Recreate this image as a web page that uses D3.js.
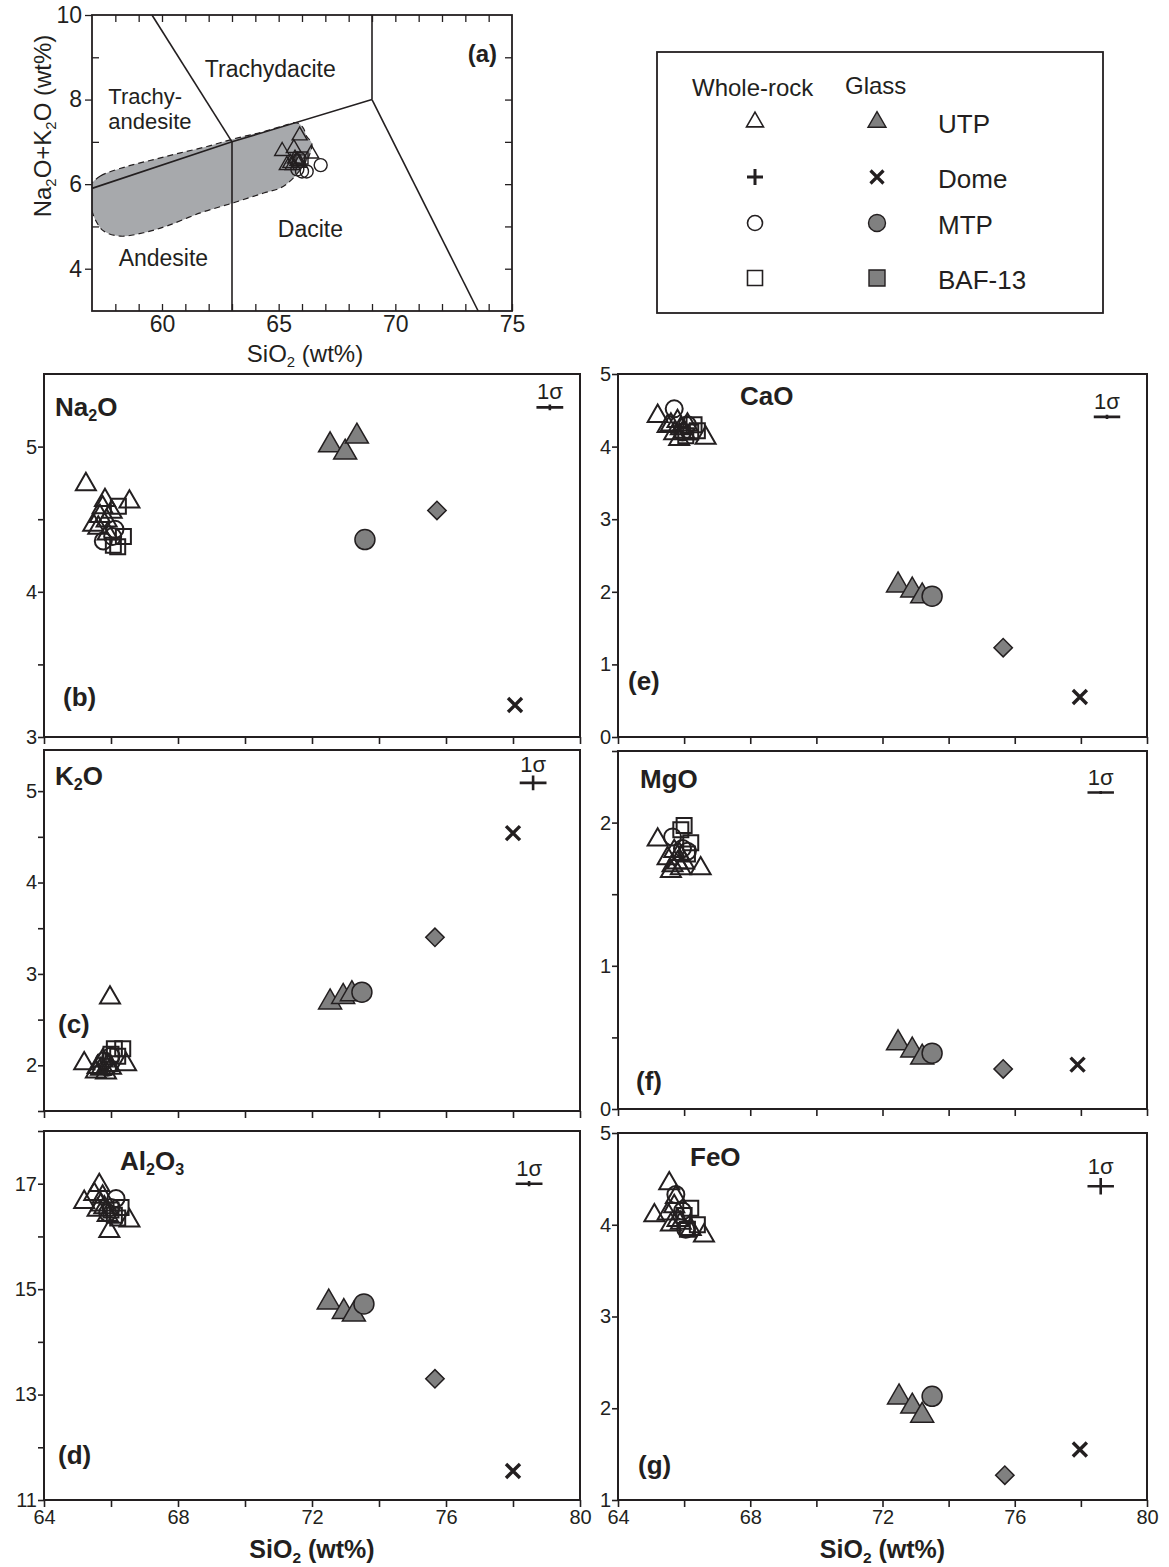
<!DOCTYPE html>
<html><head><meta charset="utf-8">
<script src="https://cdn.jsdelivr.net/npm/d3@7"></script>
<style>
body{margin:0;background:#fff}
text{font-family:"Liberation Sans",Arial,Helvetica,sans-serif;fill:#231f20}
</style>
</head><body><script>
// ================= DATA =================
// (a) TAS diagram
const tasXTicks = [60, 65, 70, 75];
const tasYTicks = [4, 6, 8, 10];
const tasBoundaryLines = [
  [[57, 5.9], [63, 7], [69, 8]],
  [[63, 3], [63, 7]],
  [[63, 7], [59.57, 10]],
  [[69, 8], [69, 10]],
  [[69, 8], [73.55, 3]]
];
const tasFieldOutline = [[56.9,5.95],[57.36,6.19],[58.5,6.42],[59.64,6.58],[60.79,6.74],[61.93,6.89],[63.07,7.07],[64.21,7.22],[65.21,7.38],[65.79,7.45],[66.05,7.33],[66.2,7.13],[66.42,6.97],[66.3,6.66],[66.0,6.4],[65.55,6.1],[65.07,5.91],[64.36,5.79],[63.07,5.56],[61.64,5.32],[60.21,5.01],[59.21,4.85],[58.21,4.77],[57.5,4.89],[57.14,5.16],[56.95,5.48],[56.9,5.79]];
const tasRockNames = ["Trachydacite", ["Trachy-", "andesite"], "Dacite", "Andesite"];
const tasWR_UTP = [[65.15,6.78],[65.9,7.15],[65.65,6.85],[65.35,6.45],[65.5,6.5],[65.7,6.6],[65.8,6.55],[66.4,6.72],[65.6,6.45],[65.9,6.5]];
const tasWR_MTP = [[66.8,6.45],[66.0,6.3],[65.8,6.35],[66.2,6.3],[65.9,6.6]];
const tasWR_BAF = [[66.0,6.62],[65.85,6.55]];

// Harker panels
const sio2Ticks = [64, 66, 68, 70, 72, 74, 76, 78, 80];
const sio2Labels = [64, 68, 72, 76, 80];
const legendGroups = ["UTP", "Dome", "MTP", "BAF-13"];

const na2oWR_UTP = [[65.25,4.74],[65.82,4.63],[66.55,4.62],[65.67,4.52],[65.47,4.46],[65.87,4.49],[66.02,4.55],[65.62,4.44],[65.75,4.58],[65.9,4.4]];
const na2oWR_MTP = [[65.77,4.35],[66.12,4.43],[66.05,4.38]];
const na2oWR_BAF = [[66.37,4.38],[66.07,4.32],[66.2,4.31],[66.22,4.59]];
const na2oGl_UTP = [[72.54,5.01],[72.99,4.96],[73.34,5.07]];
const na2oGl_MTP = [[73.58,4.36]];
const na2oGl_BAF = [[75.73,4.56]];
const na2oGl_Dome = [[78.06,3.22]];

const k2oWR_UTP = [[65.97,2.74],[65.2,2.02],[65.55,1.93],[65.7,1.96],[65.85,1.92],[65.9,2.0],[66.0,1.97],[66.45,2.01],[65.75,2.05],[65.6,1.98]];
const k2oWR_MTP = [[65.8,2.05],[66.0,2.1],[65.9,1.98]];
const k2oWR_BAF = [[66.1,2.18],[66.35,2.18],[66.0,2.12],[66.2,2.1]];
const k2oGl_UTP = [[72.54,2.69],[72.93,2.75],[73.19,2.78]];
const k2oGl_MTP = [[73.49,2.8]];
const k2oGl_BAF = [[75.67,3.4]];
const k2oGl_Dome = [[78.0,4.54]];

const al2o3WR_UTP = [[65.2,16.65],[65.65,16.97],[65.5,16.8],[65.75,16.75],[65.8,16.55],[65.6,16.5],[65.9,16.4],[66.55,16.3],[65.95,16.1],[65.7,16.6]];
const al2o3WR_MTP = [[66.15,16.72],[66.0,16.55],[65.9,16.45]];
const al2o3WR_BAF = [[66.3,16.55],[66.1,16.4],[66.2,16.35],[66.0,16.5]];
const al2o3Gl_UTP = [[72.5,14.75],[72.95,14.57],[73.25,14.52]];
const al2o3Gl_MTP = [[73.55,14.72]];
const al2o3Gl_BAF = [[75.67,13.3]];
const al2o3Gl_Dome = [[78.0,11.55]];

const caoWR_UTP = [[65.2,4.42],[65.6,4.3],[65.8,4.35],[65.9,4.25],[65.7,4.18],[66.0,4.2],[66.65,4.12],[65.85,4.1],[65.5,4.28],[66.1,4.3]];
const caoWR_MTP = [[65.7,4.52],[66.1,4.3],[65.95,4.2]];
const caoWR_BAF = [[66.3,4.3],[66.2,4.2],[66.05,4.15],[66.4,4.22]];
const caoGl_UTP = [[72.47,2.09],[72.9,2.02],[73.2,1.94]];
const caoGl_MTP = [[73.5,1.94]];
const caoGl_BAF = [[75.65,1.23]];
const caoGl_Dome = [[77.97,0.55]];

const mgoWR_UTP = [[65.2,1.88],[65.5,1.75],[65.65,1.7],[65.8,1.72],[65.9,1.68],[65.7,1.8],[66.5,1.68],[66.0,1.72],[65.6,1.66],[65.85,1.78]];
const mgoWR_MTP = [[65.65,1.9],[65.95,1.82],[66.1,1.8]];
const mgoWR_BAF = [[66.0,1.98],[65.9,1.95],[66.2,1.86],[66.1,1.78]];
const mgoGl_UTP = [[72.47,0.46],[72.9,0.41],[73.2,0.36]];
const mgoGl_MTP = [[73.5,0.39]];
const mgoGl_BAF = [[75.65,0.28]];
const mgoGl_Dome = [[77.9,0.31]];

const feoWR_UTP = [[65.55,4.45],[65.1,4.1],[65.5,4.12],[65.7,4.2],[65.8,4.05],[65.6,4.0],[66.6,3.88],[65.9,4.02],[66.2,3.95],[65.75,4.3]];
const feoWR_MTP = [[65.75,4.33],[65.95,4.15],[66.05,3.95]];
const feoWR_BAF = [[66.2,4.18],[66.4,4.0],[66.0,4.1],[66.1,3.95]];
const feoGl_UTP = [[72.5,2.12],[72.9,2.02],[73.2,1.92]];
const feoGl_MTP = [[73.5,2.13]];
const feoGl_BAF = [[75.7,1.27]];
const feoGl_Dome = [[77.97,1.55]];

// 1-sigma analytical uncertainty: [centre SiO2, centre oxide, sigma SiO2, sigma oxide]
const sigmaNa2O = [79.1, 5.27, 0.4, 0.02];
const sigmaK2O = [78.6, 5.09, 0.4, 0.08];
const sigmaAl2O3 = [78.48, 17.0, 0.4, 0.05];
const sigmaCaO = [78.79, 4.41, 0.4, 0.03];
const sigmaMgO = [78.6, 2.21, 0.4, 0.01];
const sigmaFeO = [78.6, 4.42, 0.4, 0.09];

// ================= RENDER =================
const INK = '#231f20', GLASS = '#808080', FIELD = '#a7a9ac';
const svg = d3.select('body').append('svg').attr('width', 1169).attr('height', 1567);

function rich(sel, str, fs) {
  const parts = str.split(/(_\d)/).filter(s => s.length);
  let sub = false;
  parts.forEach(p => {
    if (p[0] === '_') {
      sel.append('tspan').attr('font-size', fs * 0.62).attr('dy', fs * 0.2).text(p.slice(1));
      sub = true;
    } else {
      const t = sel.append('tspan').text(p);
      if (sub) { t.attr('dy', -fs * 0.2); sub = false; }
    }
  });
  return sel;
}

const sym = {
  tri: s => d3.symbol().type(d3.symbolTriangle).size(Math.sqrt(3) / 4 * s * s)(),
  circ: r => d3.symbol().type(d3.symbolCircle).size(Math.PI * r * r)(),
  sq: s => d3.symbol().type(d3.symbolSquare).size(s * s)(),
  x: a => `M${-a},${-a}L${a},${a}M${-a},${a}L${a},${-a}`,
  plus: a => `M${-a},0L${a},0M0,${-a}L0,${a}`
};

function drawPts(g, data, x, y, path, style) {
  g.selectAll(null).data(data).enter().append('path')
    .attr('d', path)
    .attr('transform', d => `translate(${x(d[0])},${y(d[1])})${style.rot ? ' rotate(45)' : ''}`)
    .attr('fill', style.fill || 'none')
    .attr('stroke', INK)
    .attr('stroke-width', style.sw || 1.8)
    .attr('stroke-linejoin', 'miter');
}

// ---------- Panel (a) ----------
(function () {
  const L = {x0: 92, x1: 512, y0: 15, y1: 311};
  const x = d3.scaleLinear([57, 75], [L.x0, L.x1]);
  const y = d3.scaleLinear([3, 10], [L.y1, L.y0]);
  const g = svg.append('g');
  svg.append('clipPath').attr('id', 'clipA').append('rect')
    .attr('x', L.x0).attr('y', L.y0).attr('width', L.x1 - L.x0).attr('height', L.y1 - L.y0);
  const line = d3.line().x(d => x(d[0])).y(d => y(d[1]));
  g.append('path').attr('clip-path', 'url(#clipA)')
    .attr('d', d3.line().x(d => x(d[0])).y(d => y(d[1])).curve(d3.curveCatmullRomClosed.alpha(0.5))(tasFieldOutline))
    .attr('fill', FIELD).attr('stroke', INK).attr('stroke-width', 1.2).attr('stroke-dasharray', '6,4');
  tasBoundaryLines.forEach(l => g.append('path').attr('d', line(l)).attr('fill', 'none')
    .attr('stroke', INK).attr('stroke-width', 1.6));

  const styleAx = s => { s.select('.domain').remove(); s.selectAll('line').attr('stroke', INK).attr('stroke-width', 1.3);
    s.selectAll('text').attr('font-size', 23).attr('fill', INK).attr('font-family', '"Liberation Sans",Arial,sans-serif'); };
  const minorX = d3.range(58, 76, 1);
  g.append('g').attr('transform', `translate(0,${L.y1})`)
    .call(d3.axisBottom(x).tickValues(minorX).tickSize(-7).tickPadding(5)
      .tickFormat(v => tasXTicks.includes(v) ? v : '')).call(styleAx);
  g.append('g').attr('transform', `translate(0,${L.y0})`)
    .call(d3.axisTop(x).tickValues(minorX.slice(0, -1)).tickSize(-7).tickFormat('')).call(styleAx);
  g.append('g').attr('transform', `translate(${L.x1},0)`)
    .call(d3.axisRight(y).tickValues(d3.range(4, 10, 1)).tickSize(-7).tickFormat('')).call(styleAx);
  g.append('g').attr('transform', `translate(${L.x0},0)`)
    .call(d3.axisLeft(y).tickValues(tasYTicks).tickSize(7).tickPadding(3).tickFormat(d3.format('d'))).call(styleAx);
  g.append('g').attr('transform', `translate(${L.x0},0)`)
    .call(d3.axisLeft(y).tickValues([5, 7, 9]).tickSize(-7).tickFormat('')).call(styleAx);
  g.append('rect').attr('x', L.x0).attr('y', L.y0).attr('width', L.x1 - L.x0).attr('height', L.y1 - L.y0)
    .attr('fill', 'none').attr('stroke', INK).attr('stroke-width', 1.8);

  // field names: [x, y, anchor] in diagram coordinates
  const namePos = [[64.64, 8.54, 'middle'], [57.7, 7.9, 'start'], [66.36, 4.74, 'middle'], [60.06, 4.06, 'middle']];
  tasRockNames.forEach((n, i) => {
    if (Array.isArray(n)) {
      n.forEach((ln, j) => g.append('text').attr('x', x(namePos[i][0])).attr('y', y(namePos[i][1]) + j * 25)
        .attr('text-anchor', namePos[i][2]).attr('font-size', 22).text(ln));
    } else {
      g.append('text').attr('x', x(namePos[i][0])).attr('y', y(namePos[i][1]))
        .attr('text-anchor', namePos[i][2]).attr('font-size', 23).text(n);
    }
  });
  g.append('text').attr('x', x(73.73)).attr('y', y(8.9)).attr('text-anchor', 'middle')
    .attr('font-size', 24).attr('font-weight', 'bold').text('(a)');

  drawPts(g, tasWR_UTP, x, y, sym.tri(15), {sw: 1.4});
  drawPts(g, tasWR_MTP, x, y, sym.circ(6.5), {sw: 1.4});
  drawPts(g, tasWR_BAF, x, y, sym.sq(12), {sw: 1.4});

  rich(g.append('text').attr('x', 305).attr('y', 362).attr('text-anchor', 'middle').attr('font-size', 24), 'SiO_2 (wt%)', 24);
  rich(g.append('text').attr('transform', 'translate(51,126) rotate(-90)').attr('text-anchor', 'middle').attr('font-size', 24),
    'Na_2O+K_2O (wt%)', 24);
})();

// ---------- Legend ----------
(function () {
  const g = svg.append('g');
  g.append('rect').attr('x', 657).attr('y', 52).attr('width', 446).attr('height', 261)
    .attr('fill', 'none').attr('stroke', INK).attr('stroke-width', 1.8);
  g.append('text').attr('x', 692).attr('y', 96).attr('font-size', 24).text('Whole-rock');
  g.append('text').attr('x', 845).attr('y', 94).attr('font-size', 24).text('Glass');
  const rows = [122, 177, 223, 278];
  const wr = [[sym.tri(17), {sw: 1.6}], [sym.plus(8), {sw: 3}], [sym.circ(7.5), {sw: 1.6}], [sym.sq(15), {sw: 1.6}]];
  const gl = [[sym.tri(18), {fill: GLASS, sw: 1.4}], [sym.x(6.5), {sw: 3.2}], [sym.circ(8.5), {fill: GLASS, sw: 1.4}], [sym.sq(16), {fill: GLASS, sw: 1.4}]];
  legendGroups.forEach((name, i) => {
    g.append('path').attr('d', wr[i][0]).attr('transform', `translate(755,${rows[i]})`)
      .attr('fill', 'none').attr('stroke', INK).attr('stroke-width', wr[i][1].sw);
    g.append('path').attr('d', gl[i][0]).attr('transform', `translate(877,${rows[i]})`)
      .attr('fill', gl[i][1].fill || 'none').attr('stroke', INK).attr('stroke-width', gl[i][1].sw);
    g.append('text').attr('x', 938).attr('y', rows[i] + 11).attr('font-size', 26).text(name);
  });
})();

// ---------- Harker panels ----------
const panels = [
  {id: 'b', ox: 'Na_2O', lay: {x0: 44, x1: 580, y0: 374, y1: 737}, dom: [3, 5.5], ticks: d3.range(3, 5.01, 0.5), labels: [3, 4, 5],
    wr: [na2oWR_UTP, na2oWR_MTP, na2oWR_BAF], gl: [na2oGl_UTP, na2oGl_MTP, na2oGl_BAF, na2oGl_Dome], sig: sigmaNa2O,
    oxPos: [55, 416], tagPos: [63, 706], xLab: false},
  {id: 'c', ox: 'K_2O', lay: {x0: 44, x1: 580, y0: 750, y1: 1111}, dom: [1.5, 5.45], ticks: d3.range(1.5, 5.01, 0.5), labels: [2, 3, 4, 5],
    wr: [k2oWR_UTP, k2oWR_MTP, k2oWR_BAF], gl: [k2oGl_UTP, k2oGl_MTP, k2oGl_BAF, k2oGl_Dome], sig: sigmaK2O,
    oxPos: [55, 785], tagPos: [58, 1033], xLab: false},
  {id: 'd', ox: 'Al_2O_3', lay: {x0: 44, x1: 580, y0: 1131, y1: 1500}, dom: [11, 18], ticks: d3.range(11, 18.01, 1), labels: [11, 13, 15, 17],
    wr: [al2o3WR_UTP, al2o3WR_MTP, al2o3WR_BAF], gl: [al2o3Gl_UTP, al2o3Gl_MTP, al2o3Gl_BAF, al2o3Gl_Dome], sig: sigmaAl2O3,
    oxPos: [120, 1170], tagPos: [58, 1464], xLab: true},
  {id: 'e', ox: 'CaO', lay: {x0: 618, x1: 1147, y0: 374, y1: 737}, dom: [0, 5], ticks: d3.range(0, 5.01, 1), labels: [0, 1, 2, 3, 4, 5],
    wr: [caoWR_UTP, caoWR_MTP, caoWR_BAF], gl: [caoGl_UTP, caoGl_MTP, caoGl_BAF, caoGl_Dome], sig: sigmaCaO,
    oxPos: [740, 405], tagPos: [628, 690], xLab: false},
  {id: 'f', ox: 'MgO', lay: {x0: 618, x1: 1147, y0: 751, y1: 1109}, dom: [0, 2.5], ticks: d3.range(0, 2.51, 0.5), labels: [0, 1, 2],
    wr: [mgoWR_UTP, mgoWR_MTP, mgoWR_BAF], gl: [mgoGl_UTP, mgoGl_MTP, mgoGl_BAF, mgoGl_Dome], sig: sigmaMgO,
    oxPos: [640, 788], tagPos: [636, 1090], xLab: false},
  {id: 'g', ox: 'FeO', lay: {x0: 618, x1: 1147, y0: 1133, y1: 1500}, dom: [1, 5], ticks: d3.range(1, 5.01, 1), labels: [1, 2, 3, 4, 5],
    wr: [feoWR_UTP, feoWR_MTP, feoWR_BAF], gl: [feoGl_UTP, feoGl_MTP, feoGl_BAF, feoGl_Dome], sig: sigmaFeO,
    oxPos: [690, 1166], tagPos: [638, 1474], xLab: true}
];

panels.forEach(p => {
  const L = p.lay;
  const x = d3.scaleLinear([64, 80], [L.x0, L.x1]);
  const y = d3.scaleLinear(p.dom, [L.y1, L.y0]);
  const g = svg.append('g');
  const styleAx = s => { s.select('.domain').remove(); s.selectAll('line').attr('stroke', INK).attr('stroke-width', 1.6);
    s.selectAll('text').attr('font-size', 20).attr('fill', INK).attr('font-family', '"Liberation Sans",Arial,sans-serif'); };
  g.append('g').attr('transform', `translate(${L.x0},0)`)
    .call(d3.axisLeft(y).tickValues(p.ticks).tickSize(6).tickPadding(1)
      .tickFormat(v => p.labels.some(l => Math.abs(l - v) < 1e-6) ? d3.format('d')(v) : '')).call(styleAx);
  g.append('g').attr('transform', `translate(0,${L.y1})`)
    .call(d3.axisBottom(x).tickValues(sio2Ticks).tickSize(7).tickPadding(3)
      .tickFormat(v => p.xLab && sio2Labels.includes(v) ? v : '')).call(styleAx);
  g.append('rect').attr('x', L.x0).attr('y', L.y0).attr('width', L.x1 - L.x0).attr('height', L.y1 - L.y0)
    .attr('fill', 'none').attr('stroke', INK).attr('stroke-width', 2);

  drawPts(g, p.wr[0], x, y, sym.tri(20), {sw: 2});
  drawPts(g, p.wr[1], x, y, sym.circ(8.5), {sw: 2});
  drawPts(g, p.wr[2], x, y, sym.sq(15), {sw: 2});
  drawPts(g, p.gl[0], x, y, sym.tri(23), {fill: GLASS, sw: 1.5});
  drawPts(g, p.gl[1], x, y, sym.circ(10), {fill: GLASS, sw: 1.5});
  drawPts(g, p.gl[2], x, y, sym.sq(13), {fill: GLASS, sw: 1.5, rot: true});
  drawPts(g, p.gl[3], x, y, sym.x(7), {sw: 3.4});

  const [cx, cy, sx, sy] = p.sig;
  const hy = y(cy) - y(cy + sy);
  g.append('path').attr('d', `M${x(cx - sx)},${y(cy)}L${x(cx + sx)},${y(cy)}M${x(cx)},${y(cy - sy)}L${x(cx)},${y(cy + sy)}`)
    .attr('stroke', INK).attr('stroke-width', 2.6).attr('fill', 'none');
  g.append('text').attr('x', x(cx)).attr('y', y(cy) - Math.max(8, hy + 4)).attr('text-anchor', 'middle')
    .attr('font-size', 22).text('1σ');

  rich(g.append('text').attr('x', p.oxPos[0]).attr('y', p.oxPos[1]).attr('font-size', 26).attr('font-weight', 'bold'), p.ox, 26);
  g.append('text').attr('x', p.tagPos[0]).attr('y', p.tagPos[1]).attr('font-size', 26).attr('font-weight', 'bold').text(`(${p.id})`);
  if (p.xLab) {
    rich(g.append('text').attr('x', (L.x0 + L.x1) / 2).attr('y', 1558).attr('text-anchor', 'middle')
      .attr('font-size', 25).attr('font-weight', 'bold'), 'SiO_2 (wt%)', 25);
  }
});
</script></body></html>
